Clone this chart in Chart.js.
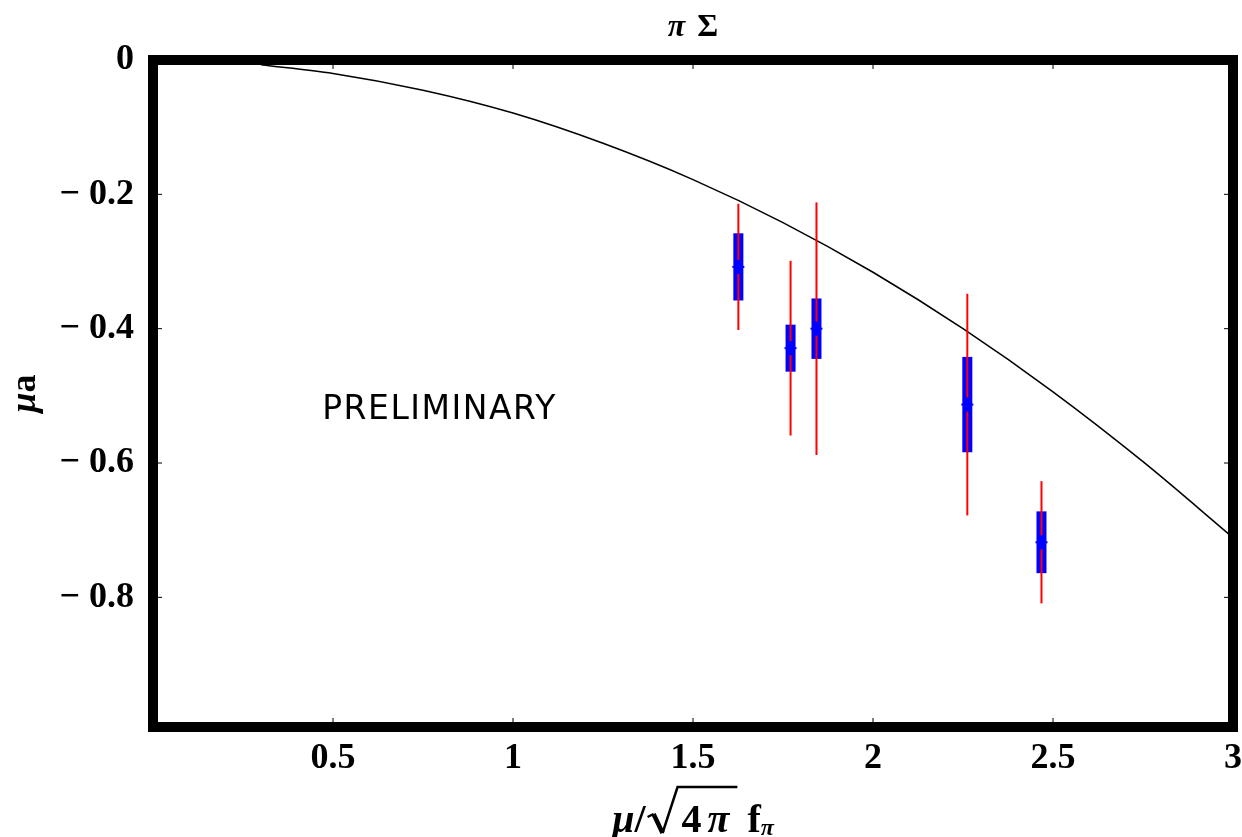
<!DOCTYPE html>
<html>
<head>
<meta charset="utf-8">
<script src="https://cdn.jsdelivr.net/npm/chart.js@4.4.0/dist/chart.umd.min.js"></script>
<style>
  html, body { margin: 0; padding: 0; background: #fff; }
</style>
</head>
<body>
<canvas id="graphe" width="1242" height="837"></canvas>
<script>
// points mesurés : position, valeur, erreur statistique et erreur totale
var xPoints = [1.626, 1.771, 1.843, 2.262, 2.468];
var yPoints = [-0.308, -0.429, -0.400, -0.513, -0.718];
var statErr = [0.050, 0.035, 0.045, 0.071, 0.046];
var totErr = [0.094, 0.130, 0.188, 0.165, 0.091];

// courbe théorique
var xCurve = [0.3, 0.5, 0.75, 1, 1.25, 1.5, 1.75, 2, 2.25, 2.5, 2.75, 3];
var yCurve = [-0.007, -0.020, -0.045, -0.079, -0.124, -0.178, -0.242, -0.316, -0.400, -0.494, -0.598, -0.711];

// graduations
var xTicks = [0.5, 1, 1.5, 2, 2.5, 3];
var yTicks = [0, -0.2, -0.4, -0.6, -0.8];

var serif = '"Liberation Serif", "DejaVu Serif", serif';

function toXY(xs, ys) {
    return xs.map(function(x, i) { return { x: x, y: ys[i] }; });
}

// Texte composé de morceaux avec des polices différentes
function drawPieces(ctx, pieces, x, y) {
    pieces.forEach(function(p) {
        ctx.font = p.font;
        ctx.fillText(p.text, x, y + (p.dy || 0));
        x += ctx.measureText(p.text).width + (p.gap || 0);
    });
    return x;
}

function piecesWidth(ctx, pieces) {
    var w = 0;
    pieces.forEach(function(p) {
        ctx.font = p.font;
        w += ctx.measureText(p.text).width + (p.gap || 0);
    });
    return w;
}

var habillage = {
    id: 'habillage',
    afterDatasetsDraw: function(chart) {
        var ctx = chart.ctx, xs = chart.scales.x, ys = chart.scales.y, a = chart.chartArea;
        ctx.save();

        // barres d'erreur : stat en bleu, totale en rouge
        for (var i = 0; i < xPoints.length; i++) {
            var px = xs.getPixelForValue(xPoints[i]);
            var sTop = ys.getPixelForValue(yPoints[i] + statErr[i]);
            var sBot = ys.getPixelForValue(yPoints[i] - statErr[i]);
            ctx.fillStyle = '#0000ff';
            ctx.fillRect(px - 5, sTop, 10, sBot - sTop);

            ctx.strokeStyle = '#ff0000';
            ctx.lineWidth = 2;
            ctx.beginPath();
            ctx.moveTo(px, ys.getPixelForValue(yPoints[i] + totErr[i]));
            ctx.lineTo(px, ys.getPixelForValue(yPoints[i] - totErr[i]));
            ctx.stroke();

            var pc = ys.getPixelForValue(yPoints[i]);
            ctx.fillStyle = '#0000ff';
            ctx.fillRect(px - 2, pc - 7, 4, 14);
            ctx.fillRect(px - 6, pc - 1, 12, 2);
        }

        // cadre épais
        ctx.strokeStyle = '#000';
        ctx.lineWidth = 10;
        ctx.strokeRect(a.left, a.top, a.right - a.left, a.bottom - a.top);

        // petites graduations vers l'intérieur
        ctx.lineWidth = 1;
        ctx.beginPath();
        xTicks.forEach(function(v) {
            var p = xs.getPixelForValue(v);
            ctx.moveTo(p, a.bottom - 5); ctx.lineTo(p, a.bottom - 9);
            ctx.moveTo(p, a.top + 5); ctx.lineTo(p, a.top + 9);
        });
        yTicks.forEach(function(v) {
            var p = ys.getPixelForValue(v);
            ctx.moveTo(a.left + 5, p); ctx.lineTo(a.left + 9, p);
            ctx.moveTo(a.right - 5, p); ctx.lineTo(a.right - 9, p);
        });
        ctx.stroke();

        // mention
        ctx.fillStyle = '#000';
        ctx.font = '33px "DejaVu Sans", sans-serif';
        ctx.letterSpacing = '1.5px';
        ctx.textAlign = 'left';
        ctx.textBaseline = 'middle';
        ctx.fillText('PRELIMINARY', xs.getPixelForValue(0.47), ys.getPixelForValue(-0.522));
        ctx.letterSpacing = '0px';
        ctx.restore();
    },
    afterDraw: function(chart) {
        var ctx = chart.ctx, a = chart.chartArea;
        var cx = (a.left + a.right) / 2;
        ctx.save();
        ctx.fillStyle = '#000';
        ctx.strokeStyle = '#000';
        ctx.textAlign = 'left';
        ctx.textBaseline = 'alphabetic';

        // titre
        var titre = [
            { text: 'π', font: 'bold italic 32px ' + serif, gap: 12 },
            { text: 'Σ', font: 'bold 32px ' + serif }
        ];
        drawPieces(ctx, titre, cx - piecesWidth(ctx, titre) / 2, 36);

        // titre de l'axe x : μ/√(4π) f_π
        var base = 832;
        var avant = [
            { text: 'μ', font: 'bold italic 40px ' + serif },
            { text: '/', font: 'bold 40px ' + serif, gap: 36 }
        ];
        var sousRacine = [
            { text: '4', font: 'bold 40px ' + serif, gap: 6 },
            { text: 'π', font: 'bold italic 40px ' + serif, gap: 18 }
        ];
        var apres = [
            { text: 'f', font: 'bold 40px ' + serif },
            { text: 'π', font: 'bold italic 24px ' + serif, dy: 3 }
        ];
        var total = piecesWidth(ctx, avant) + piecesWidth(ctx, sousRacine) + piecesWidth(ctx, apres);
        var x0 = cx - total / 2;
        var xr = drawPieces(ctx, avant, x0, base);
        var xe = drawPieces(ctx, sousRacine, xr, base);
        drawPieces(ctx, apres, xe, base);

        // signe racine
        var r0 = xr - 36;
        ctx.lineJoin = 'miter';
        ctx.lineWidth = 2.5;
        ctx.beginPath();
        ctx.moveTo(r0 + 2, base - 15);
        ctx.lineTo(r0 + 8, base - 18);
        ctx.stroke();
        ctx.lineWidth = 4.5;
        ctx.beginPath();
        ctx.moveTo(r0 + 8, base - 18);
        ctx.lineTo(r0 + 17, base + 1);
        ctx.stroke();
        ctx.lineWidth = 2.5;
        ctx.beginPath();
        ctx.moveTo(r0 + 17, base + 1);
        ctx.lineTo(r0 + 32, base - 45);
        ctx.lineTo(xe - 10, base - 45);
        ctx.stroke();

        // titre de l'axe y : μa
        var yTitre = [
            { text: 'μ', font: 'bold italic 36px ' + serif },
            { text: 'a', font: 'bold 36px ' + serif }
        ];
        ctx.translate(35, (a.top + a.bottom) / 2);
        ctx.rotate(-Math.PI / 2);
        drawPieces(ctx, yTitre, -piecesWidth(ctx, yTitre) / 2, 0);
        ctx.restore();
    }
};

var tickFont = { family: serif, size: 36, weight: 'bold' };

var config = {
    type: 'scatter',
    data: {
        datasets: [{
            type: 'line',
            data: toXY(xCurve, yCurve),
            borderColor: '#000',
            borderWidth: 1.5,
            pointRadius: 0,
            fill: false,
            cubicInterpolationMode: 'monotone'
        }, {
            data: toXY(xPoints, yPoints),
            pointRadius: 0,
            backgroundColor: '#0000ff'
        }]
    },
    options: {
        responsive: false,
        animation: false,
        devicePixelRatio: 1,
        layout: { padding: { top: 60, right: 9, left: 0, bottom: 0 } },
        plugins: {
            legend: { display: false },
            tooltip: { enabled: false }
        },
        scales: {
            x: {
                type: 'linear',
                min: 0,
                max: 3,
                afterBuildTicks: function(axis) {
                    axis.ticks = xTicks.map(function(v) { return { value: v }; });
                },
                afterFit: function(axis) {
                    axis.height = 110;
                    axis.paddingLeft = 0;
                    axis.paddingRight = 0;
                },
                grid: { display: false, drawTicks: false },
                border: { display: false },
                ticks: {
                    font: tickFont,
                    color: '#000',
                    padding: 10,
                    maxRotation: 0,
                    autoSkip: false,
                    callback: function(v) { return String(v); }
                }
            },
            y: {
                type: 'linear',
                min: -0.993,
                max: 0,
                afterBuildTicks: function(axis) {
                    axis.ticks = yTicks.map(function(v) { return { value: v }; });
                },
                afterFit: function(axis) {
                    axis.width = 153;
                    axis.paddingTop = 0;
                    axis.paddingBottom = 0;
                },
                grid: { display: false, drawTicks: false },
                border: { display: false },
                ticks: {
                    font: tickFont,
                    color: '#000',
                    padding: 19,
                    autoSkip: false,
                    callback: function(v) {
                        return v === 0 ? '0' : '\u2212 ' + Math.abs(v).toFixed(1);
                    }
                }
            }
        }
    },
    plugins: [habillage]
};

new Chart(document.getElementById('graphe').getContext('2d'), config);
</script>
</body>
</html>
